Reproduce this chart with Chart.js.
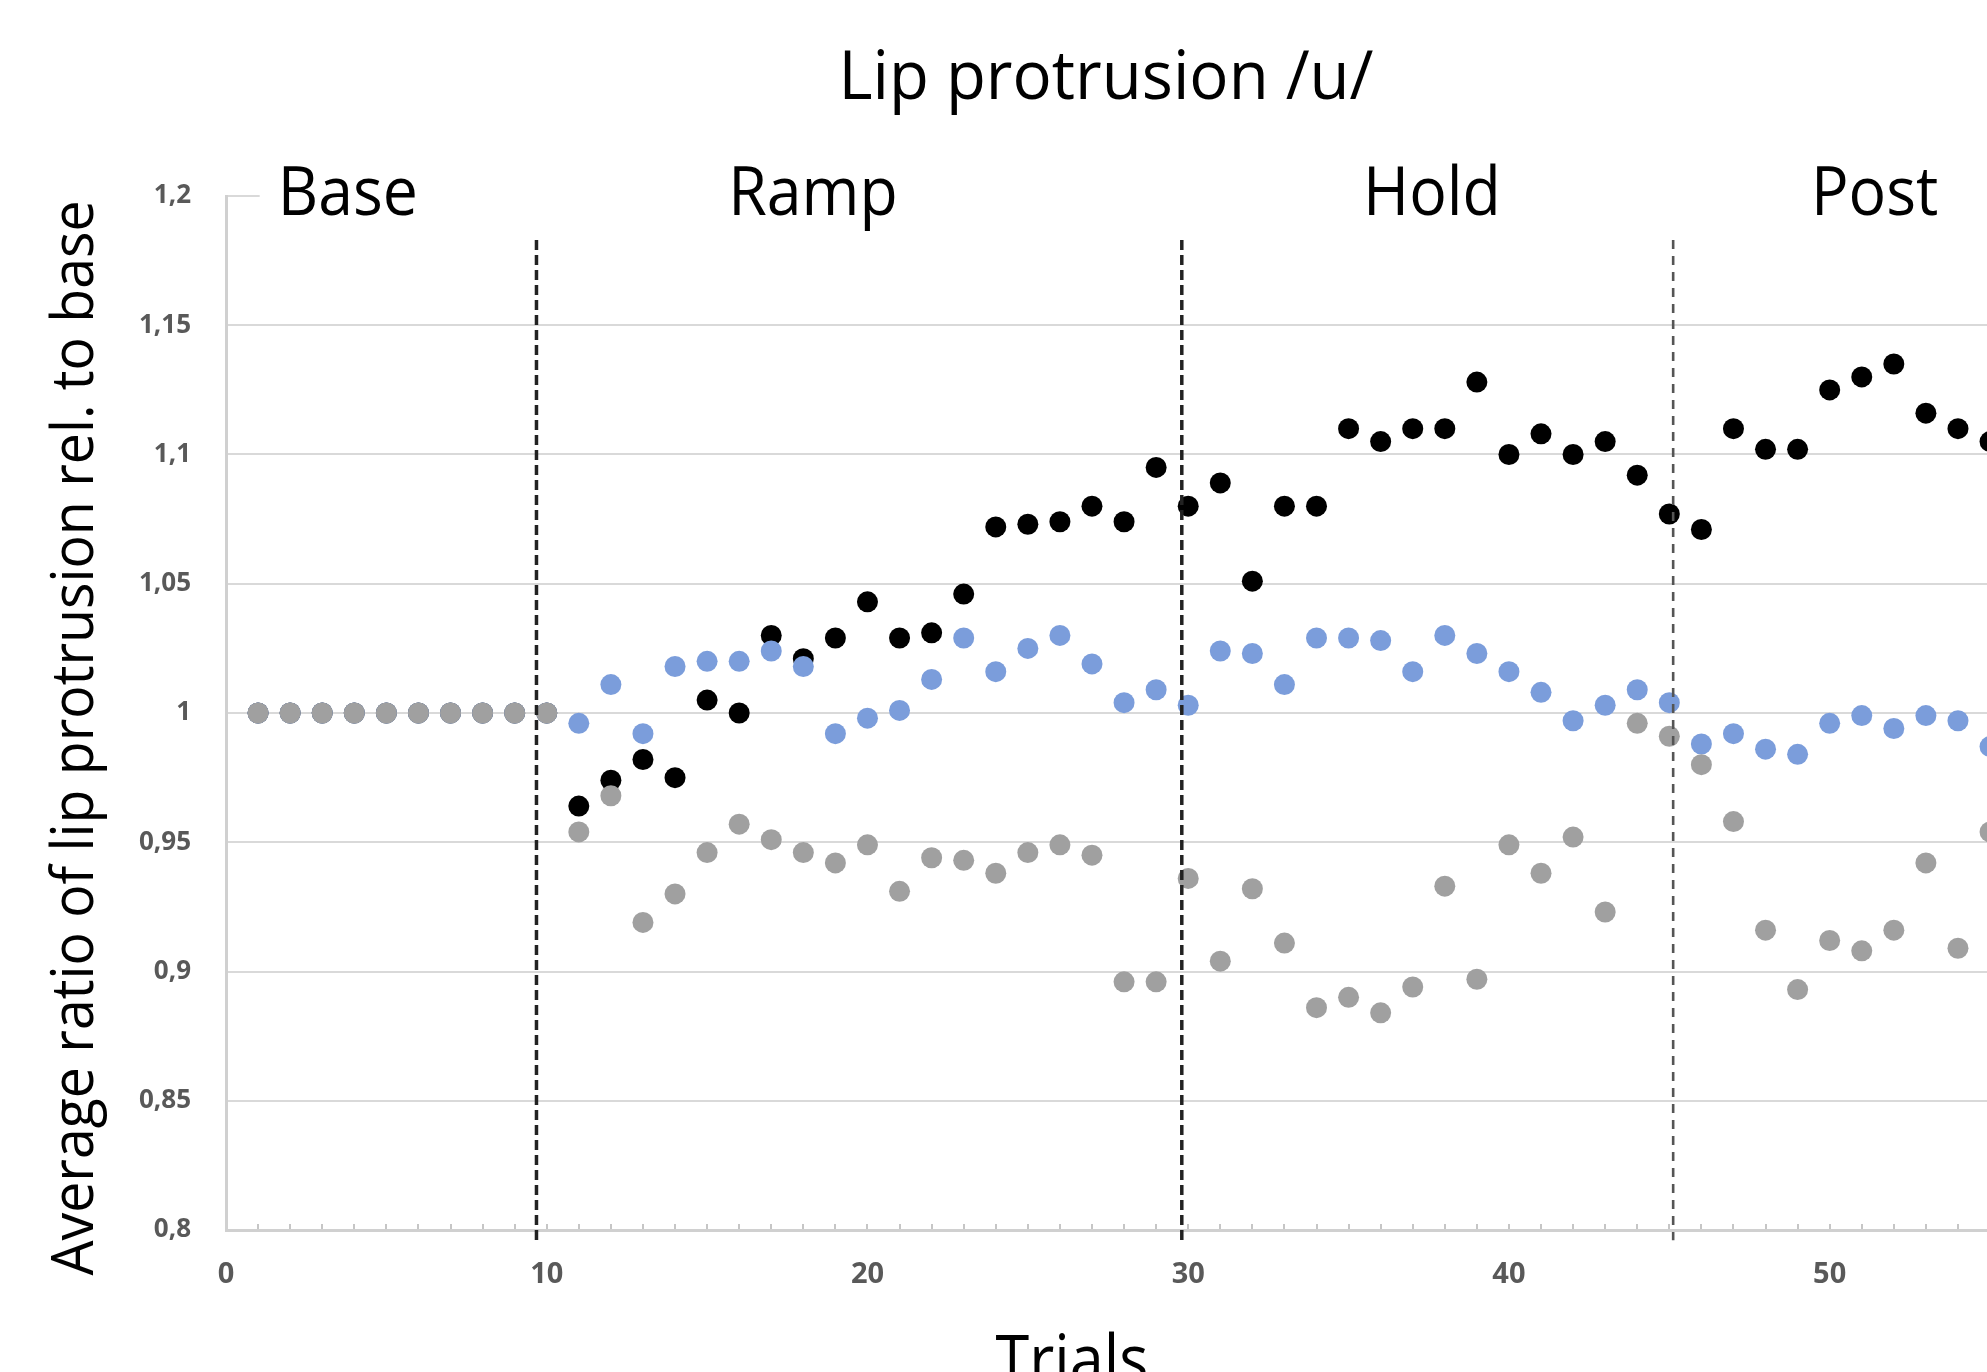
<!DOCTYPE html>
<html>
<head>
<meta charset="utf-8">
<title>Lip protrusion /u/</title>
<script src="https://cdn.jsdelivr.net/npm/chart.js@4.4.1/dist/chart.umd.min.js"></script>
<style>
  html, body { margin: 0; padding: 0; background: #fff; overflow: hidden; }
  #wrap { position: absolute; left: 0; top: 0; width: 2200px; height: 1372px; }
</style>
</head>
<body>
<div id="wrap"><canvas id="lipChart" width="2200" height="1372"></canvas></div>
<script>
// Trial numbers (x)
const trials = [
  1, 2, 3, 4, 5, 6, 7, 8, 9, 10,
  11, 12, 13, 14, 15, 16, 17, 18, 19, 20,
  21, 22, 23, 24, 25, 26, 27, 28, 29, 30,
  31, 32, 33, 34, 35, 36, 37, 38, 39, 40,
  41, 42, 43, 44, 45, 46, 47, 48, 49, 50,
  51, 52, 53, 54, 55,
];

// Average ratio rel. to base, one value per trial
const blackValues = [
  1, 1, 1, 1, 1, 1, 1, 1, 1, 1,
  0.964, 0.974, 0.982, 0.975, 1.005, 1.0, 1.03, 1.021, 1.029, 1.043,
  1.029, 1.031, 1.046, 1.072, 1.073, 1.074, 1.08, 1.074, 1.095, 1.08,
  1.089, 1.051, 1.08, 1.08, 1.11, 1.105, 1.11, 1.11, 1.128, 1.1,
  1.108, 1.1, 1.105, 1.092, 1.077, 1.071, 1.11, 1.102, 1.102, 1.125,
  1.13, 1.135, 1.116, 1.11, 1.105,
];

const blueValues = [
  1, 1, 1, 1, 1, 1, 1, 1, 1, 1,
  0.996, 1.011, 0.992, 1.018, 1.02, 1.02, 1.024, 1.018, 0.992, 0.998,
  1.001, 1.013, 1.029, 1.016, 1.025, 1.03, 1.019, 1.004, 1.009, 1.003,
  1.024, 1.023, 1.011, 1.029, 1.029, 1.028, 1.016, 1.03, 1.023, 1.016,
  1.008, 0.997, 1.003, 1.009, 1.004, 0.988, 0.992, 0.986, 0.984, 0.996,
  0.999, 0.994, 0.999, 0.997, 0.987,
];

const greyValues = [
  1, 1, 1, 1, 1, 1, 1, 1, 1, 1,
  0.954, 0.968, 0.919, 0.93, 0.946, 0.957, 0.951, 0.946, 0.942, 0.949,
  0.931, 0.944, 0.943, 0.938, 0.946, 0.949, 0.945, 0.896, 0.896, 0.936,
  0.904, 0.932, 0.911, 0.886, 0.89, 0.884, 0.894, 0.933, 0.897, 0.949,
  0.938, 0.952, 0.923, 0.996, 0.991, 0.98, 0.958, 0.916, 0.893, 0.912,
  0.908, 0.916, 0.942, 0.909, 0.954,
];

// Axis ticks
const xTickLabels = ["0", "10", "20", "30", "40", "50", "60"];
const yTicks = [0.8, 0.85, 0.9, 0.95, 1, 1.05, 1.1, 1.15, 1.2];
const yTickLabels = ["0,8", "0,85", "0,9", "0,95", "1", "1,05", "1,1", "1,15", "1,2"];

// Phases: boundary lines and labels (in trial units)
const phaseBounds = [9.68, 29.8, 45.12];
const phaseNames = ["Base", "Ramp", "Hold", "Post"];
const phaseLabelAt = [3.8, 18.3, 37.6, 51.4];

const FONT = "'Open Sans', 'Noto Sans', sans-serif";

function points(values) {
  return trials.map(function (t, i) {
    return { x: t, y: values[i] };
  });
}

function drawText(ctx, text, cx, baseline, size, squeeze) {
  ctx.save();
  ctx.font = size + "px " + FONT;
  ctx.translate(cx, baseline);
  ctx.scale(squeeze, 1);
  ctx.textAlign = "center";
  ctx.textBaseline = "alphabetic";
  ctx.fillStyle = "#000";
  ctx.fillText(text, 0, 0);
  ctx.restore();
}

// dashed phase lines, drawn over the dots
const phaseLines = {
  id: "phaseLines",
  afterDatasetsDraw(chart) {
    const ctx = chart.ctx;
    const xs = chart.scales.x;
    const ys = chart.scales.y;
    const top = ys.getPixelForValue(1.183);
    const bottom = ys.getPixelForValue(0.796);
    phaseBounds.forEach(function (b, i) {
      const px = xs.getPixelForValue(b);
      ctx.save();
      if (i < 2) {
        ctx.strokeStyle = "#222";
        ctx.lineWidth = 3.5;
        ctx.setLineDash([10, 5]);
      } else {
        ctx.strokeStyle = "#555";
        ctx.lineWidth = 2.6;
        ctx.setLineDash([9, 7]);
      }
      ctx.beginPath();
      ctx.moveTo(px, top);
      ctx.lineTo(px, bottom);
      ctx.stroke();
      ctx.restore();
    });
  },
};

// titles and phase labels
const labels = {
  id: "labels",
  afterDraw(chart) {
    const ctx = chart.ctx;
    const xs = chart.scales.x;
    const ys = chart.scales.y;

    // white text boxes hide the top grid line
    ctx.save();
    ctx.fillStyle = "#fff";
    ctx.fillRect(xs.getPixelForValue(1.05), ys.getPixelForValue(1.2) - 12, chart.width, 24);
    ctx.restore();

    phaseNames.forEach(function (name, i) {
      drawText(ctx, name, xs.getPixelForValue(phaseLabelAt[i]), 215, 68, 0.92);
    });

    drawText(ctx, "Lip protrusion /u/", 1106, 99, 68, 0.96);
    drawText(ctx, "Trials", 1072, 1383, 68, 0.9);

    // y axis title, condensed to its length in the figure
    const yTitle = "Average ratio of lip protrusion rel. to base";
    ctx.save();
    ctx.font = "58px " + FONT;
    const w = ctx.measureText(yTitle).width;
    ctx.translate(93, 738);
    ctx.rotate(-Math.PI / 2);
    ctx.scale(1075 / w, 1);
    ctx.textAlign = "center";
    ctx.textBaseline = "alphabetic";
    ctx.fillStyle = "#000";
    ctx.fillText(yTitle, 0, 0);
    ctx.restore();
  },
};

const ctx = document.getElementById("lipChart").getContext("2d");
new Chart(ctx, {
  type: "scatter",
  data: {
    datasets: [
      {
        label: "grey",
        data: points(greyValues),
        backgroundColor: "#a0a0a0",
        order: 1,
      },
      {
        label: "blue",
        data: points(blueValues),
        backgroundColor: "#7b9ddb",
        order: 2,
      },
      {
        label: "black",
        data: points(blackValues),
        backgroundColor: "#000000",
        order: 3,
      },
    ],
  },
  options: {
    responsive: false,
    animation: false,
    devicePixelRatio: 1,
    layout: { padding: { top: 196, right: 43, bottom: 0, left: 0 } },
    elements: {
      point: { radius: 10.5, borderWidth: 0, hoverRadius: 10.5 },
    },
    plugins: {
      legend: { display: false },
      tooltip: { enabled: false },
    },
    scales: {
      x: {
        type: "linear",
        min: 0,
        max: 60,
        afterFit: function (scale) {
          scale.height = 142;
        },
        ticks: {
          stepSize: 1,
          autoSkip: false,
          maxRotation: 0,
          padding: 33,
          color: "#595959",
          font: { family: FONT, size: 29, weight: "bold" },
          callback: function (value) {
            return value % 10 === 0 ? xTickLabels[value / 10] : "";
          },
        },
        grid: {
          drawOnChartArea: false,
          drawTicks: true,
          tickLength: -6,
          color: "#c6c6c6",
          lineWidth: 2,
        },
        border: { color: "#d0d0d0", width: 3 },
      },
      y: {
        type: "linear",
        min: 0.8,
        max: 1.2,
        afterFit: function (scale) {
          scale.width = 226;
        },
        afterBuildTicks: function (scale) {
          scale.ticks = yTicks.map(function (v) {
            return { value: v };
          });
        },
        ticks: {
          padding: 35,
          color: "#595959",
          font: { family: FONT, size: 26, weight: "bold" },
          callback: function (value, index) {
            return yTickLabels[index];
          },
        },
        grid: {
          drawTicks: false,
          color: "#d9d9d9",
          lineWidth: 2,
        },
        border: { color: "#d0d0d0", width: 3 },
      },
    },
  },
  plugins: [phaseLines, labels],
});
</script>
</body>
</html>
